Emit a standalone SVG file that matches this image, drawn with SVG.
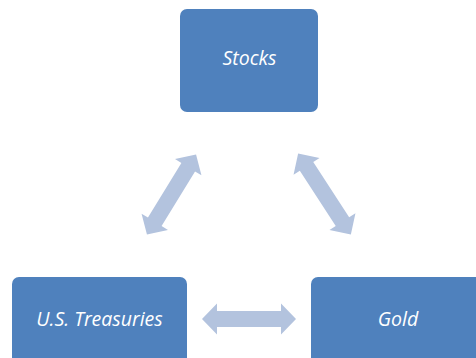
<svg xmlns="http://www.w3.org/2000/svg" width="476" height="358" viewBox="0 0 476 358">
  <style>
    .box { fill: #4F81BD; }
    .label { fill: #FFFFFF; font-family: "Open Sans", "Liberation Sans", sans-serif; font-style: italic; font-size: 19.5px; text-anchor: middle; }
    .arrow { fill: #B3C3DE; }
  </style>
  <defs>
    <!-- double-headed block arrow, centred on the origin, pointing along x -->
    <path id="dbl" d="M-47,0 L-32,-15.5 L-32,-8 L32,-8 L32,-15.5 L47,0 L32,15.5 L32,8 L-32,8 L-32,15.5 Z"/>
  </defs>

  <g id="connectors">
    <use href="#dbl" class="arrow" transform="translate(171.5,194.5) rotate(-58.5)"/>
    <use href="#dbl" class="arrow" transform="translate(324.5,194) rotate(57) scale(1.03,1)"/>
    <use href="#dbl" class="arrow" transform="translate(249,319)"/>
  </g>

  <g id="stocks">
    <rect class="box" x="180" y="9" width="138" height="103" rx="7"/>
    <text class="label" x="249.5" y="65">Stocks</text>
  </g>

  <g id="treasuries">
    <rect class="box" x="12" y="277" width="175" height="100" rx="7"/>
    <text class="label" x="99.5" y="326">U.S. Treasuries</text>
  </g>

  <g id="gold">
    <rect class="box" x="311" y="277" width="180" height="100" rx="7"/>
    <text class="label" x="398" y="326">Gold</text>
  </g>
</svg>
